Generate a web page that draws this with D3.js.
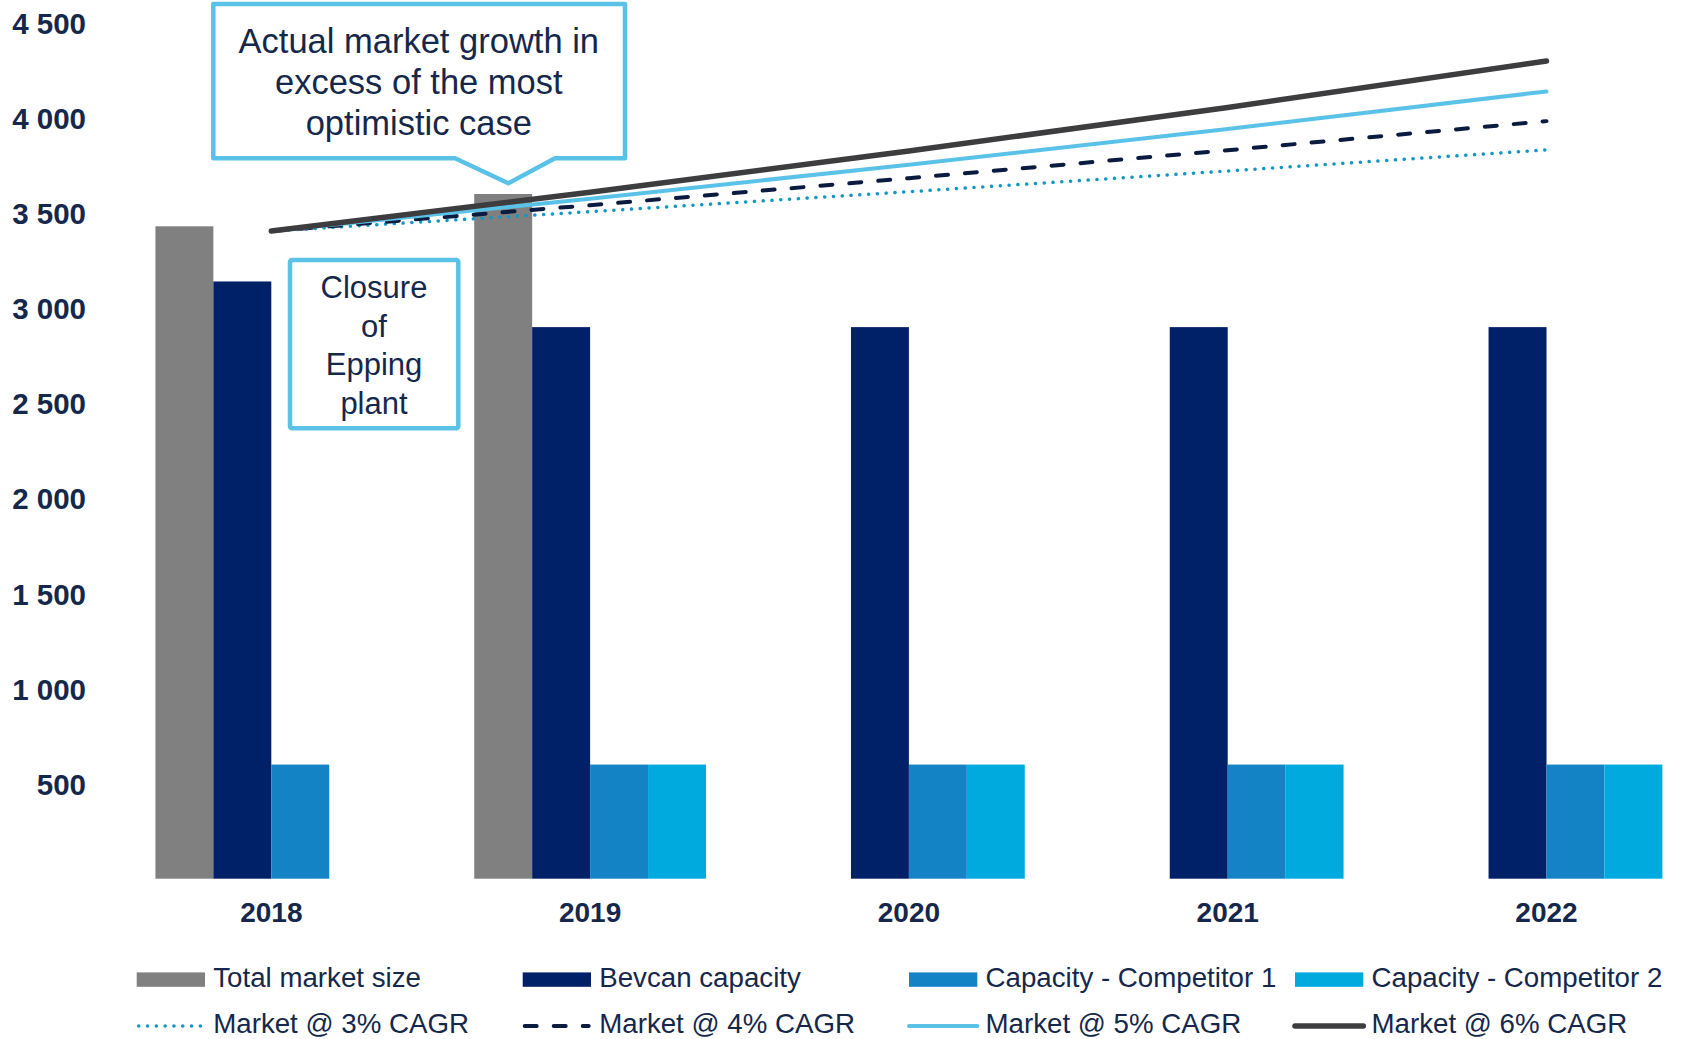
<!DOCTYPE html>
<html>
<head>
<meta charset="utf-8">
<script src="https://cdn.jsdelivr.net/npm/d3@7"></script>
<style>
  body { margin: 0; background: #fff; }
  svg { display: block; font-family: Arial, "Liberation Sans", sans-serif; }
</style>
</head>
<body>
<div id="chart"></div>
<script>
// categories
const years = ['2018', '2019', '2020', '2021', '2022'];

// bars (null = no bar that year)
const totalMarket    = [3430, 3600, null, null, null];
const bevcanCapacity = [3140, 2900, 2900, 2900, 2900];
const competitor1    = [600, 600, 600, 600, 600];
const competitor2    = [null, 600, 600, 600, 600];

// market growth scenarios
const market3 = [3405, 3507, 3612, 3721, 3832];
const market4 = [3405, 3541, 3683, 3830, 3983];
const market5 = [3405, 3575, 3754, 3942, 4139];
const market6 = [3405, 3609, 3826, 4055, 4299];

// y axis ticks
const yTicks = [500, 1000, 1500, 2000, 2500, 3000, 3500, 4000, 4500];
const yTickLabels = ['500', '1 000', '1 500', '2 000', '2 500', '3 000', '3 500', '4 000', '4 500'];

const width = 1681;
const height = 1039;
const textColor = '#15284b';

const barSeries = [
  { name: 'Total market size', values: totalMarket, color: '#808080' },
  { name: 'Bevcan capacity', values: bevcanCapacity, color: '#002068' },
  { name: 'Capacity - Competitor 1', values: competitor1, color: '#1483c6' },
  { name: 'Capacity - Competitor 2', values: competitor2, color: '#00aadf' }
];

const lineSeries = [
  { name: 'Market @ 3% CAGR', values: market3, color: '#1296c6', width: 3.5, dash: '0.1 8.7', cap: 'round' },
  { name: 'Market @ 4% CAGR', values: market4, color: '#0b1b3f', width: 4, dash: '12 17', cap: 'round' },
  { name: 'Market @ 5% CAGR', values: market5, color: '#5bc2e7', width: 4, dash: null, cap: 'round' },
  { name: 'Market @ 6% CAGR', values: market6, color: '#3d3d40', width: 5.5, dash: null, cap: 'round' }
];

const svg = d3.select('#chart')
  .append('svg')
  .attr('width', width)
  .attr('height', height);

// scales
const x0 = d3.scaleBand()
  .domain(years)
  .range([111.9, 1705.9])
  .paddingInner(0.273)
  .paddingOuter(0.1365);

const x1 = d3.scaleBand()
  .domain(d3.range(barSeries.length))
  .range([0, x0.bandwidth()]);

const y = d3.scaleLinear()
  .domain([0, 4500])
  .range([878.7, 22.8]);

// bars
const groups = svg.append('g')
  .selectAll('g')
  .data(barSeries)
  .enter().append('g')
  .attr('fill', d => d.color);

groups.selectAll('rect')
  .data((s, si) => s.values.map((v, i) => ({ year: years[i], value: v, si: si })).filter(d => d.value != null))
  .enter().append('rect')
  .attr('x', d => x0(d.year) + x1(d.si))
  .attr('y', d => y(d.value))
  .attr('width', x1.bandwidth())
  .attr('height', d => y(0) - y(d.value));

// growth lines
const line = d3.line()
  .x((d, i) => x0(years[i]) + x0.bandwidth() / 2)
  .y(d => y(d));

svg.append('g')
  .selectAll('path')
  .data(lineSeries)
  .enter().append('path')
  .attr('d', d => line(d.values))
  .attr('fill', 'none')
  .attr('stroke', d => d.color)
  .attr('stroke-width', d => d.width)
  .attr('stroke-dasharray', d => d.dash)
  .attr('stroke-linecap', d => d.cap);

// y axis (labels only)
const yAxis = svg.append('g')
  .attr('transform', 'translate(86,0)')
  .call(d3.axisLeft(y).tickValues(yTicks).tickFormat((d, i) => yTickLabels[i]).tickSize(0).tickPadding(0));
yAxis.select('.domain').remove();
yAxis.selectAll('text')
  .attr('fill', textColor)
  .attr('font-size', 29.5)
  .attr('font-weight', 'bold')
  .attr('font-family', 'Arial, "Liberation Sans", sans-serif')
  .attr('dy', '0.36em');

// x axis (labels only)
const xAxis = svg.append('g')
  .attr('transform', `translate(0,${y(0)})`)
  .call(d3.axisBottom(x0).tickSize(0));
xAxis.select('.domain').remove();
xAxis.selectAll('text')
  .attr('fill', textColor)
  .attr('font-size', 28)
  .attr('font-weight', 'bold')
  .attr('font-family', 'Arial, "Liberation Sans", sans-serif')
  .attr('y', 43.6)
  .attr('dy', 0);

// callout: market growth
const callout = svg.append('g');
callout.append('path')
  .attr('d', 'M213.3,4 L625,4 L625,158.3 L555,158.3 L508.3,183.3 L455,158.3 L213.3,158.3 Z')
  .attr('fill', '#fff')
  .attr('stroke', '#5bc2e7')
  .attr('stroke-width', 4.5)
  .attr('stroke-linejoin', 'round');
callout.append('text')
  .attr('text-anchor', 'middle')
  .attr('fill', textColor)
  .attr('font-size', 34.5)
  .selectAll('tspan')
  .data(['Actual market growth in', 'excess of the most', 'optimistic case'])
  .enter().append('tspan')
  .attr('x', 418.8)
  .attr('y', (d, i) => 53.3 + i * 41)
  .text(d => d);

// callout: Epping closure
const closure = svg.append('g');
closure.append('rect')
  .attr('x', 290)
  .attr('y', 260)
  .attr('width', 168.3)
  .attr('height', 168.3)
  .attr('fill', '#fff')
  .attr('stroke', '#5bc2e7')
  .attr('stroke-width', 4.5)
  .attr('rx', 2);
closure.append('text')
  .attr('text-anchor', 'middle')
  .attr('fill', textColor)
  .attr('font-size', 31)
  .selectAll('tspan')
  .data(['Closure', 'of', 'Epping', 'plant'])
  .enter().append('tspan')
  .attr('x', 374)
  .attr('y', (d, i) => 298.3 + i * 38.4)
  .text(d => d);

// legend
const legendCols = [136.7, 522.7, 909, 1295];

const barLegend = svg.append('g')
  .selectAll('g')
  .data(barSeries)
  .enter().append('g')
  .attr('transform', (d, i) => `translate(${legendCols[i]},979.6)`);
barLegend.append('rect')
  .attr('x', 0)
  .attr('y', -7.2)
  .attr('width', 68.3)
  .attr('height', 14.4)
  .attr('fill', d => d.color);
barLegend.append('text')
  .attr('x', 76.5)
  .attr('y', 7.1)
  .attr('fill', textColor)
  .attr('font-size', 27.7)
  .text(d => d.name);

const lineLegend = svg.append('g')
  .selectAll('g')
  .data(lineSeries)
  .enter().append('g')
  .attr('transform', (d, i) => `translate(${legendCols[i]},1026)`);
lineLegend.append('line')
  .attr('x1', d => d.dash ? 2 : 0)
  .attr('x2', d => d.dash ? 66 : 68.3)
  .attr('y1', 0)
  .attr('y2', 0)
  .attr('stroke', d => d.color)
  .attr('stroke-width', d => d.width)
  .attr('stroke-dasharray', d => d.dash)
  .attr('stroke-linecap', d => d.cap);
lineLegend.append('text')
  .attr('x', 76.5)
  .attr('y', 7)
  .attr('fill', textColor)
  .attr('font-size', 27.7)
  .text(d => d.name);
</script>
</body>
</html>
